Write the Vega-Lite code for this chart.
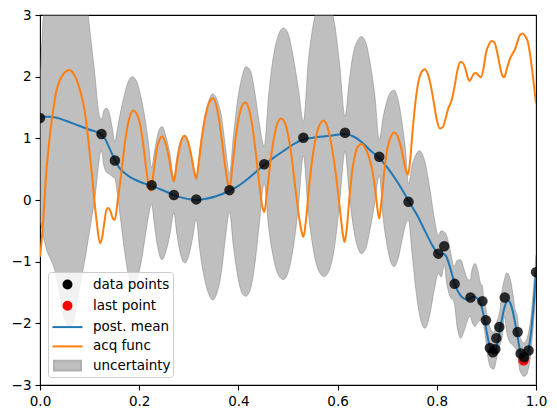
{
"$schema": "https://vega.github.io/schema/vega-lite/v6.json",
"width": 496, "height": 370,
"autosize": {"type": "none"},
"padding": {"left": 40, "top": 15, "right": 21, "bottom": 33},
"background": "white",
"config": {
 "font": "DejaVu Sans",
 "view": {"stroke": "black", "strokeWidth": 1.1},
 "axis": {"grid": false, "domain": false, "ticks": true, "tickColor": "black", "tickSize": 5, "tickWidth": 1.1, "labelFontSize": 13.5, "labelColor": "black", "labelPadding": 4, "labelFont": "DejaVu Sans", "labelFlush": false, "labelOverlap": false},
 "legend": {"orient": "bottom-left", "offset": 8, "padding": 2, "fillColor": "rgba(255,255,255,0.8)", "strokeColor": "#cccccc", "cornerRadius": 3, "symbolSize": 361, "symbolStrokeWidth": 2, "symbolOffset": 7, "labelOffset": 15, "rowPadding": 2.3, "labelFontSize": 13.5, "labelFont": "DejaVu Sans", "labelColor": "black", "symbolOpacity": 1}
},
"datasets": {
 "band": [
  {"x":0.000,"lo":-0.32,"hi":1.86},{"x":0.006,"lo":-0.55,"hi":2.9},{"x":0.013,"lo":-0.80,"hi":3.6},{"x":0.022,"lo":-0.97,"hi":4.0},{"x":0.030,"lo":-1.14,"hi":4.3},{"x":0.040,"lo":-1.55,"hi":4.5},{"x":0.047,"lo":-1.85,"hi":4.6},{"x":0.054,"lo":-2.00,"hi":4.6},{"x":0.060,"lo":-2.06,"hi":4.6},{"x":0.068,"lo":-1.95,"hi":4.5},{"x":0.077,"lo":-1.55,"hi":4.2},{"x":0.085,"lo":-1.20,"hi":3.7},{"x":0.091,"lo":-0.95,"hi":3.4},{"x":0.097,"lo":-0.65,"hi":3.0},{"x":0.104,"lo":-0.30,"hi":2.5},{"x":0.111,"lo":0.05,"hi":2.0},{"x":0.117,"lo":0.50,"hi":1.5},{"x":0.122,"lo":0.78,"hi":1.32},{"x":0.124,"lo":0.80,"hi":1.31},{"x":0.129,"lo":0.55,"hi":1.45},{"x":0.134,"lo":0.45,"hi":1.49},{"x":0.140,"lo":0.42,"hi":1.40},{"x":0.146,"lo":0.38,"hi":1.15},{"x":0.151,"lo":0.35,"hi":0.94},{"x":0.156,"lo":0.10,"hi":1.15},{"x":0.163,"lo":-0.35,"hi":1.45},{"x":0.170,"lo":-0.80,"hi":1.70},{"x":0.178,"lo":-1.20,"hi":1.92},{"x":0.186,"lo":-1.38,"hi":2.00},{"x":0.195,"lo":-1.30,"hi":1.92},{"x":0.204,"lo":-1.00,"hi":1.65},{"x":0.212,"lo":-0.60,"hi":1.30},{"x":0.219,"lo":-0.25,"hi":0.90},{"x":0.225,"lo":-0.06,"hi":0.52},{"x":0.230,"lo":-0.35,"hi":0.75},{"x":0.237,"lo":-0.75,"hi":1.05},{"x":0.246,"lo":-0.97,"hi":1.19},{"x":0.255,"lo":-0.80,"hi":1.00},{"x":0.262,"lo":-0.55,"hi":0.75},{"x":0.270,"lo":-0.21,"hi":0.37},{"x":0.276,"lo":-0.55,"hi":0.70},{"x":0.284,"lo":-0.90,"hi":0.98},{"x":0.292,"lo":-1.02,"hi":1.05},{"x":0.300,"lo":-0.90,"hi":0.92},{"x":0.308,"lo":-0.60,"hi":0.62},{"x":0.315,"lo":-0.31,"hi":0.32},{"x":0.322,"lo":-0.80,"hi":0.82},{"x":0.331,"lo":-1.25,"hi":1.30},{"x":0.340,"lo":-1.52,"hi":1.60},{"x":0.348,"lo":-1.62,"hi":1.72},{"x":0.357,"lo":-1.50,"hi":1.62},{"x":0.366,"lo":-1.15,"hi":1.35},{"x":0.374,"lo":-0.60,"hi":0.85},{"x":0.382,"lo":-0.19,"hi":0.43},{"x":0.390,"lo":-0.75,"hi":1.05},{"x":0.399,"lo":-1.25,"hi":1.65},{"x":0.408,"lo":-1.52,"hi":2.02},{"x":0.415,"lo":-1.56,"hi":2.16},{"x":0.424,"lo":-1.45,"hi":2.10},{"x":0.433,"lo":-1.05,"hi":1.75},{"x":0.442,"lo":-0.40,"hi":1.25},{"x":0.452,"lo":0.27,"hi":0.87},{"x":0.461,"lo":-0.45,"hi":1.70},{"x":0.471,"lo":-0.95,"hi":2.35},{"x":0.481,"lo":-1.22,"hi":2.68},{"x":0.491,"lo":-1.29,"hi":2.79},{"x":0.501,"lo":-1.15,"hi":2.68},{"x":0.511,"lo":-0.75,"hi":2.30},{"x":0.521,"lo":-0.10,"hi":1.80},{"x":0.531,"lo":0.72,"hi":1.27},{"x":0.541,"lo":-0.20,"hi":2.25},{"x":0.551,"lo":-0.80,"hi":2.85},{"x":0.562,"lo":-1.15,"hi":3.20},{"x":0.573,"lo":-1.24,"hi":3.33},{"x":0.584,"lo":-1.12,"hi":3.20},{"x":0.594,"lo":-0.75,"hi":2.85},{"x":0.604,"lo":-0.05,"hi":2.20},{"x":0.615,"lo":0.79,"hi":1.35},{"x":0.623,"lo":0.15,"hi":1.90},{"x":0.631,"lo":-0.40,"hi":2.35},{"x":0.640,"lo":-0.75,"hi":2.58},{"x":0.648,"lo":-0.87,"hi":2.65},{"x":0.657,"lo":-0.78,"hi":2.55},{"x":0.666,"lo":-0.45,"hi":2.20},{"x":0.675,"lo":-0.05,"hi":1.70},{"x":0.684,"lo":0.40,"hi":0.98},{"x":0.692,"lo":-0.30,"hi":1.35},{"x":0.700,"lo":-0.75,"hi":1.62},{"x":0.708,"lo":-1.02,"hi":1.76},{"x":0.714,"lo":-1.08,"hi":1.78},{"x":0.722,"lo":-0.95,"hi":1.62},{"x":0.730,"lo":-0.65,"hi":1.25},{"x":0.737,"lo":-0.40,"hi":0.80},{"x":0.743,"lo":-0.33,"hi":0.26},{"x":0.750,"lo":-0.85,"hi":0.55},{"x":0.757,"lo":-1.40,"hi":0.72},{"x":0.765,"lo":-1.85,"hi":0.80},{"x":0.776,"lo":-2.08,"hi":0.62},{"x":0.786,"lo":-1.85,"hi":0.18},{"x":0.795,"lo":-1.45,"hi":-0.30},{"x":0.803,"lo":-1.19,"hi":-0.58},{"x":0.809,"lo":-1.25,"hi":-0.50},{"x":0.815,"lo":-1.05,"hi":-0.52},{"x":0.820,"lo":-1.35,"hi":-0.58},{"x":0.826,"lo":-1.55,"hi":-0.78},{"x":0.835,"lo":-1.66,"hi":-1.08},{"x":0.841,"lo":-2.05,"hi":-0.98},{"x":0.848,"lo":-2.24,"hi":-0.97},{"x":0.856,"lo":-2.10,"hi":-1.15},{"x":0.862,"lo":-1.95,"hi":-1.28},{"x":0.867,"lo":-1.88,"hi":-1.30},{"x":0.872,"lo":-2.00,"hi":-1.10},{"x":0.877,"lo":-2.05,"hi":-1.03},{"x":0.883,"lo":-1.98,"hi":-1.15},{"x":0.888,"lo":-1.95,"hi":-1.35},{"x":0.892,"lo":-1.94,"hi":-1.40},{"x":0.895,"lo":-2.05,"hi":-1.65},{"x":0.898,"lo":-2.22,"hi":-1.72},{"x":0.903,"lo":-2.55,"hi":-1.95},{"x":0.909,"lo":-2.72,"hi":-2.10},{"x":0.915,"lo":-2.74,"hi":-2.15},{"x":0.921,"lo":-2.55,"hi":-1.98},{"x":0.927,"lo":-2.35,"hi":-1.80},{"x":0.932,"lo":-2.20,"hi":-1.45},{"x":0.936,"lo":-1.88,"hi":-1.30},{"x":0.941,"lo":-2.15,"hi":-1.18},{"x":0.947,"lo":-2.30,"hi":-1.25},{"x":0.953,"lo":-2.35,"hi":-1.50},{"x":0.958,"lo":-2.40,"hi":-1.78},{"x":0.962,"lo":-2.44,"hi":-1.87},{"x":0.967,"lo":-2.75,"hi":-2.20},{"x":0.971,"lo":-2.82,"hi":-2.28},{"x":0.975,"lo":-2.86,"hi":-2.32},{"x":0.980,"lo":-2.84,"hi":-2.28},{"x":0.985,"lo":-2.72,"hi":-2.15},{"x":0.990,"lo":-2.45,"hi":-1.88},{"x":0.995,"lo":-2.00,"hi":-1.42},{"x":1.000,"lo":-1.46,"hi":-0.90}
 ],
 "mean": [
  {"x":0.000,"y":1.33},{"x":0.010,"y":1.35},{"x":0.020,"y":1.35},{"x":0.040,"y":1.32},{"x":0.060,"y":1.26},{"x":0.080,"y":1.20},{"x":0.100,"y":1.14},{"x":0.115,"y":1.10},{"x":0.124,"y":1.06},{"x":0.132,"y":0.98},{"x":0.140,"y":0.84},{"x":0.151,"y":0.65},{"x":0.160,"y":0.52},{"x":0.170,"y":0.44},{"x":0.180,"y":0.38},{"x":0.200,"y":0.30},{"x":0.225,"y":0.23},{"x":0.250,"y":0.15},{"x":0.270,"y":0.08},{"x":0.290,"y":0.03},{"x":0.315,"y":0.00},{"x":0.335,"y":0.02},{"x":0.355,"y":0.06},{"x":0.382,"y":0.15},{"x":0.400,"y":0.23},{"x":0.420,"y":0.35},{"x":0.452,"y":0.57},{"x":0.470,"y":0.68},{"x":0.490,"y":0.79},{"x":0.510,"y":0.90},{"x":0.531,"y":0.98},{"x":0.550,"y":1.01},{"x":0.585,"y":1.04},{"x":0.615,"y":1.07},{"x":0.632,"y":1.03},{"x":0.650,"y":0.93},{"x":0.665,"y":0.81},{"x":0.684,"y":0.68},{"x":0.700,"y":0.53},{"x":0.720,"y":0.30},{"x":0.735,"y":0.10},{"x":0.745,"y":-0.04},{"x":0.760,"y":-0.24},{"x":0.776,"y":-0.50},{"x":0.790,"y":-0.72},{"x":0.800,"y":-0.85},{"x":0.807,"y":-0.89},{"x":0.812,"y":-0.87},{"x":0.818,"y":-0.90},{"x":0.827,"y":-1.10},{"x":0.837,"y":-1.38},{"x":0.847,"y":-1.54},{"x":0.860,"y":-1.61},{"x":0.874,"y":-1.57},{"x":0.884,"y":-1.61},{"x":0.890,"y":-1.72},{"x":0.896,"y":-1.93},{"x":0.904,"y":-2.28},{"x":0.911,"y":-2.47},{"x":0.917,"y":-2.46},{"x":0.922,"y":-2.33},{"x":0.927,"y":-2.12},{"x":0.933,"y":-1.86},{"x":0.938,"y":-1.70},{"x":0.943,"y":-1.63},{"x":0.948,"y":-1.67},{"x":0.953,"y":-1.80},{"x":0.958,"y":-2.00},{"x":0.964,"y":-2.27},{"x":0.968,"y":-2.45},{"x":0.972,"y":-2.57},{"x":0.976,"y":-2.60},{"x":0.981,"y":-2.54},{"x":0.986,"y":-2.38},{"x":0.990,"y":-2.14},{"x":0.995,"y":-1.72},{"x":1.000,"y":-1.18}
 ],
 "acq": [
  {"x":0.000,"y":-0.92},{"x":0.004,"y":-0.60},{"x":0.008,"y":-0.15},{"x":0.012,"y":0.38},{"x":0.017,"y":0.82},{"x":0.022,"y":1.19},{"x":0.027,"y":1.48},{"x":0.032,"y":1.73},{"x":0.039,"y":1.92},{"x":0.046,"y":2.03},{"x":0.053,"y":2.09},{"x":0.059,"y":2.11},{"x":0.065,"y":2.08},{"x":0.071,"y":2.00},{"x":0.077,"y":1.88},{"x":0.084,"y":1.68},{"x":0.091,"y":1.40},{"x":0.097,"y":1.00},{"x":0.103,"y":0.55},{"x":0.109,"y":0.05},{"x":0.115,"y":-0.40},{"x":0.121,"y":-0.70},{"x":0.125,"y":-0.62},{"x":0.130,"y":-0.35},{"x":0.134,"y":-0.16},{"x":0.138,"y":-0.13},{"x":0.142,"y":-0.18},{"x":0.147,"y":-0.30},{"x":0.151,"y":-0.32},{"x":0.156,"y":-0.05},{"x":0.161,"y":0.25},{"x":0.168,"y":0.72},{"x":0.174,"y":1.08},{"x":0.180,"y":1.32},{"x":0.188,"y":1.45},{"x":0.195,"y":1.40},{"x":0.202,"y":1.22},{"x":0.209,"y":0.85},{"x":0.215,"y":0.45},{"x":0.220,"y":0.20},{"x":0.223,"y":0.15},{"x":0.229,"y":0.45},{"x":0.235,"y":0.81},{"x":0.241,"y":0.98},{"x":0.246,"y":1.03},{"x":0.252,"y":0.95},{"x":0.259,"y":0.72},{"x":0.265,"y":0.45},{"x":0.270,"y":0.30},{"x":0.276,"y":0.60},{"x":0.283,"y":0.90},{"x":0.291,"y":1.04},{"x":0.298,"y":0.95},{"x":0.305,"y":0.72},{"x":0.310,"y":0.50},{"x":0.315,"y":0.35},{"x":0.320,"y":0.60},{"x":0.327,"y":1.05},{"x":0.335,"y":1.42},{"x":0.342,"y":1.60},{"x":0.348,"y":1.65},{"x":0.355,"y":1.55},{"x":0.362,"y":1.25},{"x":0.370,"y":0.75},{"x":0.377,"y":0.35},{"x":0.382,"y":0.17},{"x":0.388,"y":0.55},{"x":0.395,"y":1.05},{"x":0.402,"y":1.38},{"x":0.409,"y":1.55},{"x":0.415,"y":1.58},{"x":0.422,"y":1.45},{"x":0.429,"y":1.15},{"x":0.436,"y":0.70},{"x":0.443,"y":0.20},{"x":0.448,"y":-0.10},{"x":0.452,"y":-0.20},{"x":0.458,"y":0.15},{"x":0.465,"y":0.65},{"x":0.472,"y":1.02},{"x":0.479,"y":1.25},{"x":0.486,"y":1.32},{"x":0.492,"y":1.28},{"x":0.499,"y":1.10},{"x":0.506,"y":0.78},{"x":0.514,"y":0.25},{"x":0.521,"y":-0.20},{"x":0.527,"y":-0.50},{"x":0.531,"y":-0.60},{"x":0.536,"y":-0.35},{"x":0.543,"y":0.25},{"x":0.551,"y":0.78},{"x":0.558,"y":1.08},{"x":0.565,"y":1.24},{"x":0.571,"y":1.29},{"x":0.578,"y":1.22},{"x":0.585,"y":1.00},{"x":0.592,"y":0.68},{"x":0.599,"y":0.25},{"x":0.606,"y":-0.25},{"x":0.611,"y":-0.58},{"x":0.614,"y":-0.68},{"x":0.618,"y":-0.50},{"x":0.624,"y":0.05},{"x":0.630,"y":0.50},{"x":0.636,"y":0.76},{"x":0.642,"y":0.88},{"x":0.649,"y":0.91},{"x":0.656,"y":0.84},{"x":0.663,"y":0.70},{"x":0.670,"y":0.48},{"x":0.676,"y":0.15},{"x":0.681,"y":-0.18},{"x":0.684,"y":-0.30},{"x":0.688,"y":-0.05},{"x":0.694,"y":0.45},{"x":0.700,"y":0.82},{"x":0.707,"y":1.02},{"x":0.714,"y":1.10},{"x":0.720,"y":1.05},{"x":0.727,"y":0.88},{"x":0.733,"y":0.65},{"x":0.738,"y":0.47},{"x":0.742,"y":0.41},{"x":0.746,"y":0.62},{"x":0.751,"y":1.10},{"x":0.756,"y":1.52},{"x":0.762,"y":1.88},{"x":0.769,"y":2.07},{"x":0.776,"y":2.12},{"x":0.782,"y":2.04},{"x":0.788,"y":1.85},{"x":0.794,"y":1.58},{"x":0.800,"y":1.30},{"x":0.806,"y":1.16},{"x":0.812,"y":1.18},{"x":0.818,"y":1.33},{"x":0.823,"y":1.48},{"x":0.830,"y":1.62},{"x":0.836,"y":1.85},{"x":0.842,"y":2.12},{"x":0.848,"y":2.24},{"x":0.853,"y":2.22},{"x":0.858,"y":2.12},{"x":0.863,"y":1.97},{"x":0.866,"y":1.93},{"x":0.870,"y":1.98},{"x":0.875,"y":2.05},{"x":0.879,"y":2.06},{"x":0.884,"y":2.02},{"x":0.889,"y":1.99},{"x":0.894,"y":2.12},{"x":0.899,"y":2.38},{"x":0.905,"y":2.52},{"x":0.911,"y":2.58},{"x":0.916,"y":2.56},{"x":0.921,"y":2.42},{"x":0.927,"y":2.18},{"x":0.932,"y":2.02},{"x":0.936,"y":1.99},{"x":0.941,"y":2.12},{"x":0.947,"y":2.28},{"x":0.952,"y":2.36},{"x":0.958,"y":2.45},{"x":0.963,"y":2.58},{"x":0.968,"y":2.68},{"x":0.973,"y":2.70},{"x":0.978,"y":2.66},{"x":0.984,"y":2.55},{"x":0.990,"y":2.25},{"x":0.995,"y":1.92},{"x":1.000,"y":1.57}
 ],
 "pts": [
  {"x":0.0,"y":1.33,"series":"data points"},{"x":0.124,"y":1.07,"series":"data points"},{"x":0.151,"y":0.64,"series":"data points"},{"x":0.225,"y":0.24,"series":"data points"},{"x":0.270,"y":0.08,"series":"data points"},{"x":0.315,"y":0.01,"series":"data points"},{"x":0.382,"y":0.16,"series":"data points"},{"x":0.452,"y":0.58,"series":"data points"},{"x":0.531,"y":1.01,"series":"data points"},{"x":0.615,"y":1.09,"series":"data points"},{"x":0.684,"y":0.70,"series":"data points"},{"x":0.743,"y":-0.03,"series":"data points"},{"x":0.803,"y":-0.87,"series":"data points"},{"x":0.815,"y":-0.75,"series":"data points"},{"x":0.836,"y":-1.36,"series":"data points"},{"x":0.868,"y":-1.58,"series":"data points"},{"x":0.892,"y":-1.64,"series":"data points"},{"x":0.899,"y":-1.95,"series":"data points"},{"x":0.907,"y":-2.40,"series":"data points"},{"x":0.913,"y":-2.47,"series":"data points"},{"x":0.918,"y":-2.42,"series":"data points"},{"x":0.920,"y":-2.24,"series":"data points"},{"x":0.926,"y":-2.06,"series":"data points"},{"x":0.937,"y":-1.58,"series":"data points"},{"x":0.963,"y":-2.14,"series":"data points"},{"x":0.969,"y":-2.49,"series":"data points"},{"x":0.976,"y":-2.55,"series":"data points"},{"x":0.985,"y":-2.44,"series":"data points"},{"x":1.0,"y":-1.17,"series":"data points"}
 ],
 "last": [
  {"x":0.975,"y":-2.60,"series":"last point"}
 ]
},
"layer": [
 {
  "data": {"name": "band"},
  "mark": {"type": "area", "clip": true, "interpolate": "monotone", "fill": "#808080", "fillOpacity": 0.5, "stroke": "#808080", "strokeOpacity": 0.5, "strokeWidth": 1},
  "encoding": {
   "x": {"field": "x", "type": "quantitative", "scale": {"domain": [0, 1], "nice": false, "zero": false}, "axis": {"values": [0, 0.2, 0.4, 0.6, 0.8, 1], "format": ".1f", "title": null}},
   "y": {"field": "lo", "type": "quantitative", "scale": {"domain": [-3, 3], "nice": false, "zero": false}, "axis": {"values": [-3, -2, -1, 0, 1, 2, 3], "format": "d", "title": null}},
   "y2": {"field": "hi"}
  }
 },
 {
  "data": {"name": "last"},
  "mark": {"type": "point", "filled": true, "clip": true, "size": 410, "strokeWidth": 2, "opacity": 1},
  "encoding": {
   "x": {"field": "x", "type": "quantitative"},
   "y": {"field": "y", "type": "quantitative"},
   "fill": {"field": "series", "type": "nominal", "title": null, "scale": {"domain": ["data points", "last point", "post. mean", "acq func", "uncertainty"], "range": ["black", "red", "#1f77b4", "#ff7f0e", "#bfbfbf"]}},
   "stroke": {"field": "series", "type": "nominal", "title": null, "scale": {"domain": ["data points", "last point", "post. mean", "acq func", "uncertainty"], "range": ["black", "red", "#1f77b4", "#ff7f0e", "#b0b0b0"]}},
   "shape": {"field": "series", "type": "nominal", "title": null, "scale": {"domain": ["data points", "last point", "post. mean", "acq func", "uncertainty"], "range": ["M-0.42,0A0.42,0.42,0,1,1,0.42,0A0.42,0.42,0,1,1,-0.42,0Z", "M-0.42,0A0.42,0.42,0,1,1,0.42,0A0.42,0.42,0,1,1,-0.42,0Z", "M-1.58,0H1.58", "M-1.58,0H1.58", "M-1.42,-0.51H1.42V0.51H-1.42Z"]}}
  }
 },
 {
  "data": {"name": "mean"},
  "mark": {"type": "line", "clip": true, "interpolate": "monotone", "color": "#1f77b4", "strokeWidth": 2},
  "encoding": {"x": {"field": "x", "type": "quantitative"}, "y": {"field": "y", "type": "quantitative"}}
 },
 {
  "data": {"name": "acq"},
  "mark": {"type": "line", "clip": true, "interpolate": "monotone", "color": "#ff7f0e", "strokeWidth": 2},
  "encoding": {"x": {"field": "x", "type": "quantitative"}, "y": {"field": "y", "type": "quantitative"}}
 },
 {
  "data": {"name": "pts"},
  "mark": {"type": "point", "filled": true, "clip": true, "size": 410, "strokeWidth": 2, "opacity": 0.8},
  "encoding": {
   "x": {"field": "x", "type": "quantitative"},
   "y": {"field": "y", "type": "quantitative"},
   "fill": {"field": "series", "type": "nominal", "title": null},
   "stroke": {"field": "series", "type": "nominal", "title": null},
   "shape": {"field": "series", "type": "nominal", "title": null}
  }
 }
]
}
